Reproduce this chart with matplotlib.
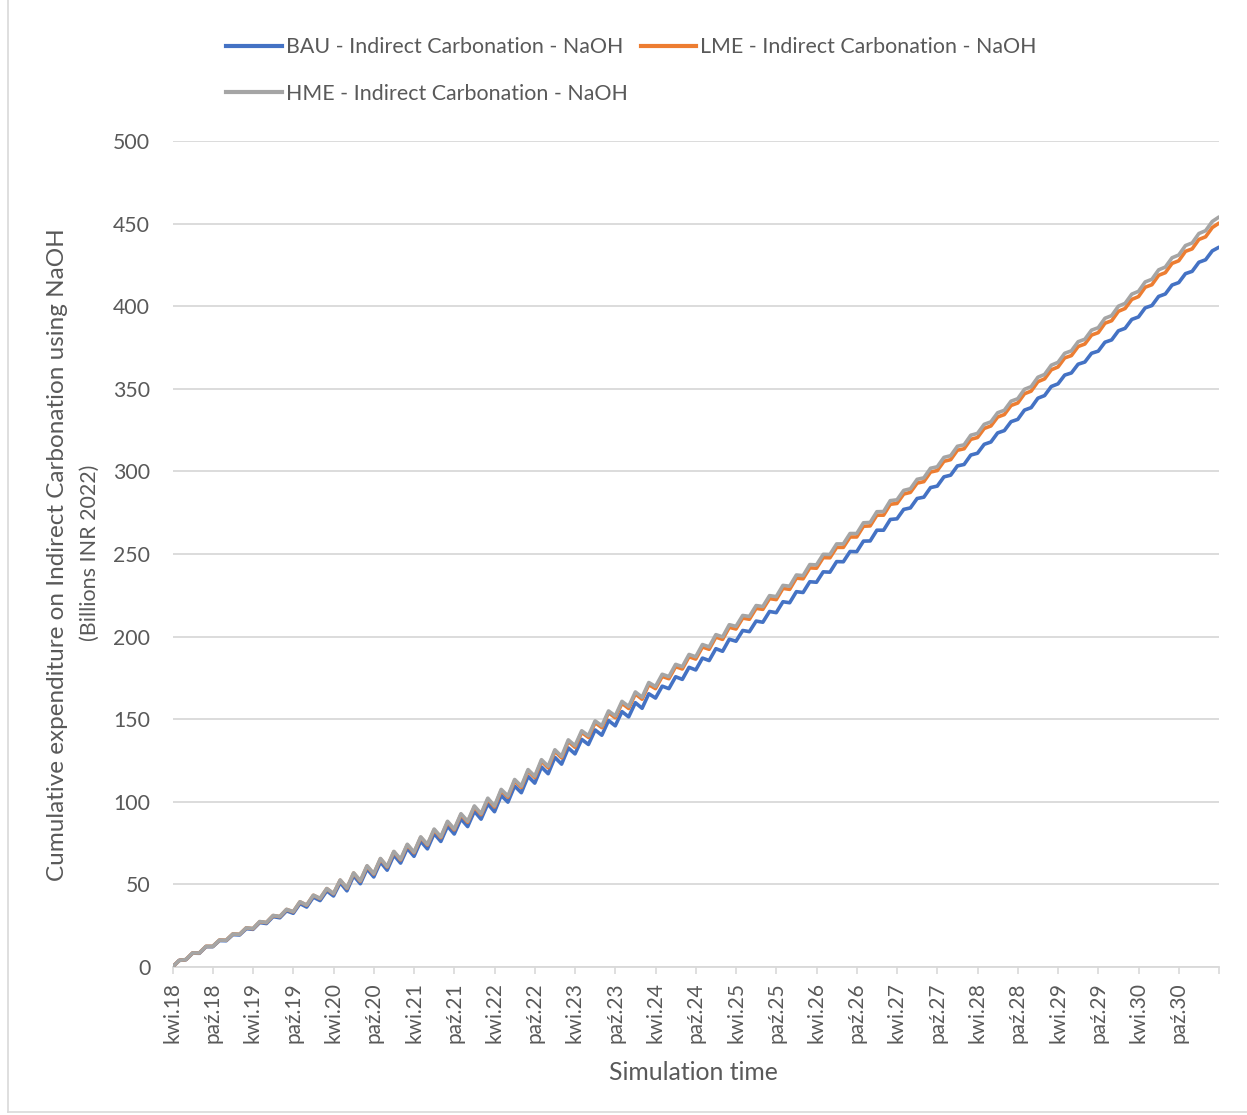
import numpy as np
import matplotlib
matplotlib.use("Agg")
import matplotlib.pyplot as plt
from matplotlib.lines import Line2D

# monthly values, Apr 2018 .. Apr 2031 (Billions INR 2022)
bau = [0, 4.0, 4.4, 8.4, 8.3, 12.3, 12.3, 16.0, 15.9, 19.6, 19.4, 23.2, 22.8, 26.9, 26.3, 30.5, 29.8, 34.0,
       32.5, 38.4, 36.3, 42.3, 40.2, 46.1, 43.0, 51.1, 46.1, 55.3, 50.4, 59.4, 54.5, 63.6, 58.6, 67.8, 62.9, 71.9,
       67.0, 76.2, 71.5, 80.8, 76.0, 85.3, 80.5, 89.7, 85.0, 94.3, 89.5, 98.8, 94.0, 103.9, 99.8, 109.6, 105.5, 115.4,
       111.3, 121.1, 117.0, 126.9, 122.8, 132.6, 129.0, 137.8, 134.7, 143.5, 140.3, 149.2, 146.0, 154.6, 151.4, 160.0,
       156.6, 165.4, 162.8, 170.0, 168.5, 175.7, 174.1, 181.4, 179.8, 187.0, 185.5, 192.7, 191.1, 198.4, 197.2, 203.7,
       203.0, 209.4, 208.7, 215.2, 214.5, 221.1, 220.5, 227.2, 226.7, 233.2, 232.9, 239.2, 239.0, 245.4, 245.3, 251.5,
       251.4, 257.8, 257.9, 264.4, 264.4, 270.9, 271.3, 277.0, 277.9, 283.6, 284.4, 290.2, 291.1, 296.7, 297.7, 303.3,
       304.2, 309.9, 311.0, 316.4, 317.8, 323.3, 324.7, 330.1, 331.5, 337.1, 338.6, 344.3, 345.9, 351.4, 353.0, 358.3,
       359.6, 364.9, 366.2, 371.5, 372.8, 378.2, 379.6, 385.1, 386.6, 392.0, 393.5, 399.0, 400.4, 405.9, 407.4, 412.8,
       414.3, 419.7, 421.1, 426.6, 428.1, 433.5, 435.7]
lme = [0, 4.0, 4.5, 8.5, 8.5, 12.5, 12.5, 16.3, 16.2, 20.0, 19.8, 23.7, 23.2, 27.4, 26.9, 31.1, 30.5, 34.8,
       33.4, 39.4, 37.4, 43.4, 41.4, 47.4, 44.3, 52.5, 47.6, 56.8, 51.9, 61.0, 56.2, 65.4, 60.5, 69.7, 64.8, 73.9,
       69.1, 78.4, 73.8, 83.0, 78.3, 87.7, 83.0, 92.2, 87.6, 96.9, 92.2, 101.5, 96.8, 106.8, 102.8, 112.7, 108.7, 118.7,
       114.7, 124.6, 120.6, 130.6, 126.6, 136.5, 133.0, 142.0, 139.0, 147.9, 144.9, 153.9, 150.9, 159.6, 156.5, 165.3,
       162.1, 170.9, 168.5, 175.9, 174.5, 181.8, 180.4, 187.8, 186.4, 193.7, 192.3, 199.7, 198.3, 205.6, 204.6, 211.2,
       210.5, 217.1, 216.5, 223.0, 222.4, 229.2, 228.6, 235.4, 235.0, 241.6, 241.4, 247.8, 247.7, 254.0, 254.0, 260.3,
       260.3, 266.8, 267.0, 273.5, 273.5, 280.1, 280.6, 286.3, 287.3, 292.9, 293.8, 299.6, 300.5, 306.1, 307.1, 312.8,
       313.7, 319.4, 320.5, 326.0, 327.5, 332.9, 334.4, 339.9, 341.4, 347.0, 348.6, 354.3, 356.0, 361.5, 363.2, 368.7,
       370.1, 375.6, 377.1, 382.5, 384.0, 389.7, 391.2, 396.9, 398.6, 404.1, 405.8, 411.5, 413.0, 418.7, 420.3, 425.9,
       427.5, 433.2, 434.7, 440.4, 442.0, 447.6, 450.3]
hme = [0, 4.0, 4.5, 8.5, 8.5, 12.5, 12.5, 16.3, 16.2, 20.0, 19.8, 23.7, 23.3, 27.5, 27.0, 31.2, 30.6, 34.9,
       33.5, 39.5, 37.5, 43.5, 41.5, 47.5, 44.5, 52.7, 47.8, 57.0, 52.2, 61.3, 56.5, 65.7, 60.8, 70.0, 65.2, 74.3,
       69.5, 78.8, 74.2, 83.5, 78.8, 88.2, 83.5, 92.8, 88.2, 97.5, 92.8, 102.2, 97.5, 107.5, 103.5, 113.5, 109.5, 119.5,
       115.5, 125.5, 121.5, 131.5, 127.5, 137.5, 134.0, 143.0, 140.0, 149.0, 146.0, 155.0, 152.0, 160.8, 157.7, 166.5,
       163.3, 172.2, 169.8, 177.2, 175.8, 183.2, 181.8, 189.2, 187.8, 195.2, 193.8, 201.2, 199.8, 207.2, 206.2, 212.8,
       212.2, 218.8, 218.2, 224.8, 224.2, 231.0, 230.5, 237.3, 236.9, 243.6, 243.4, 249.8, 249.7, 256.1, 256.1, 262.4,
       262.4, 268.9, 269.1, 275.6, 275.7, 282.3, 282.8, 288.5, 289.5, 295.2, 296.1, 301.9, 302.8, 308.5, 309.5, 315.2,
       316.1, 321.9, 323.0, 328.5, 330.0, 335.5, 337.0, 342.5, 344.0, 349.7, 351.3, 357.0, 358.7, 364.3, 366.0, 371.5,
       373.0, 378.5, 380.0, 385.5, 387.0, 392.7, 394.3, 400.0, 401.7, 407.3, 409.0, 414.7, 416.3, 422.0, 423.7, 429.3,
       431.0, 436.7, 438.3, 444.0, 445.7, 451.3, 454.0]

tick_labels = ["kwi.18", "paź.18", "kwi.19", "paź.19", "kwi.20", "paź.20", "kwi.21", "paź.21", "kwi.22",
               "paź.22", "kwi.23", "paź.23", "kwi.24", "paź.24", "kwi.25", "paź.25", "kwi.26", "paź.26",
               "kwi.27", "paź.27", "kwi.28", "paź.28", "kwi.29", "paź.29", "kwi.30", "paź.30", ""]

series_names = ["BAU - Indirect Carbonation - NaOH", "LME - Indirect Carbonation - NaOH",
                "HME - Indirect Carbonation - NaOH"]
colors = ["#4472C4", "#ED7D31", "#A5A5A5"]

plt.rcParams['font.family'] = ['Lato', 'DejaVu Sans']
txt = "#595959"
grid_c = "#D9D9D9"

W, H = 1247, 1115
fig = plt.figure(figsize=(W / 100, H / 100), dpi=100)
ax = fig.add_axes([172.5 / W, 1 - 967 / H, (1219 - 172.5) / W, (967 - 141) / H])

x = np.arange(len(hme))
for vals, c in zip([bau, lme, hme], colors):
    ax.plot(x, vals, color=c, lw=2.6, solid_joinstyle='round', solid_capstyle='round', zorder=3)

ax.set_xlim(0, len(hme) - 1)
ax.set_ylim(0, 500)
ax.set_yticks(np.arange(0, 501, 50))
ax.set_xticks(np.arange(0, len(hme), 6))
ax.set_xticklabels(tick_labels, rotation=90, fontsize=15, color=txt)
ax.tick_params(axis='y', length=0, pad=16, labelsize=15.3, labelcolor=txt)
ax.tick_params(axis='x', length=5, width=1.2, color=grid_c, pad=6)
ax.grid(axis='y', color=grid_c, lw=1.3, zorder=0)
ax.set_axisbelow(True)
for s in ['top', 'right', 'left']:
    ax.spines[s].set_visible(False)
ax.spines['bottom'].set_color(grid_c)
ax.spines['bottom'].set_linewidth(1.3)

fig.text(58 / W, 1 - 555 / H, "Cumulative expenditure on Indirect Carbonation using NaOH",
         rotation=90, ha='center', va='center', fontsize=17.5, color=txt)
fig.text(90 / W, 1 - 553 / H, "(Billions INR 2022)", rotation=90, ha='center', va='center',
         fontsize=15.5, color=txt)
fig.text(693 / W, 1 - 1073 / H, "Simulation time", ha='center', va='center', fontsize=17.8, color=txt)

handles = [Line2D([], [], color=c, lw=3) for c in colors]
order = [0, 2, 1]
fig.legend([handles[i] for i in order], [series_names[i] for i in order], ncol=2,
           loc='upper left', bbox_to_anchor=(226 / W, 1 - 37 / H), frameon=False,
           fontsize=15.4, labelcolor=txt, handlelength=2.6, handletextpad=0.2,
           columnspacing=0.6, labelspacing=1.25, borderpad=0, borderaxespad=0)

# chart area border (left and bottom visible)
fig.add_artist(Line2D([8 / W, 8 / W], [1 - 1112 / H, 1], color=grid_c, lw=1.2))
fig.add_artist(Line2D([8 / W, 1], [1 - 1112 / H, 1 - 1112 / H], color=grid_c, lw=1.2))

fig.savefig("out.png", dpi=100, facecolor="white")
